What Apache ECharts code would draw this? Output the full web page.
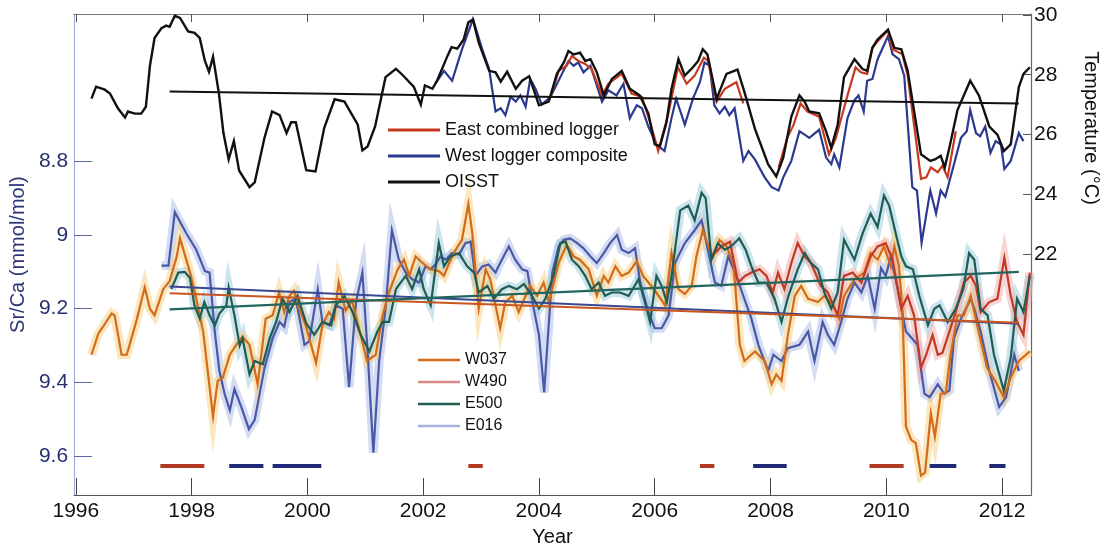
<!DOCTYPE html>
<html>
<head>
<meta charset="utf-8">
<script src="https://cdn.jsdelivr.net/npm/echarts@6/dist/echarts.min.js"></script>
<style>
  html, body { margin: 0; padding: 0; background: #fff; }
  #chart { width: 1113px; height: 552px; }
</style>
</head>
<body>
<div id="chart"></div>
<script>
// ---- values ----
var yearTicks = [1996, 1998, 2000, 2002, 2004, 2006, 2008, 2010, 2012];
var srcaTicks = [8.8, 9, 9.2, 9.4, 9.6];
var tempTicks = [22, 24, 26, 28, 30];

// temperature (right axis), [year, degC]
var oisst = [[1996.27,27.2],[1996.35,27.6],[1996.5,27.5],[1996.59,27.37],[1996.73,26.87],[1996.85,26.57],[1996.9,26.77],[1997.02,26.7],[1997.13,26.7],[1997.21,26.93],[1997.28,28.3],[1997.36,29.23],[1997.48,29.56],[1997.56,29.64],[1997.62,29.6],[1997.71,29.97],[1997.8,29.9],[1997.94,29.45],[1998.05,29.4],[1998.14,29.23],[1998.23,28.46],[1998.3,28.1],[1998.37,28.6],[1998.47,27.4],[1998.55,26.05],[1998.64,25.17],[1998.73,25.78],[1998.82,24.8],[1999.0,24.24],[1999.09,24.4],[1999.26,25.9],[1999.39,26.77],[1999.52,26.65],[1999.64,26.05],[1999.72,26.41],[1999.8,26.41],[1999.98,24.81],[2000.14,24.77],[2000.29,26.22],[2000.47,27.18],[2000.64,27.1],[2000.87,26.33],[2000.95,25.47],[2001.04,25.6],[2001.17,26.27],[2001.35,27.92],[2001.53,28.2],[2001.64,28.0],[2001.84,27.59],[2001.96,27.0],[2002.03,27.64],[2002.16,27.53],[2002.24,27.8],[2002.42,28.63],[2002.49,28.92],[2002.59,28.87],[2002.7,29.18],[2002.78,29.75],[2002.86,29.84],[2002.96,29.07],[2003.14,28.13],[2003.25,28.08],[2003.34,27.77],[2003.45,28.1],[2003.6,27.53],[2003.71,27.8],[2003.83,27.95],[2004.0,26.98],[2004.17,27.1],[2004.31,28.03],[2004.43,28.41],[2004.51,28.79],[2004.6,28.68],[2004.71,28.74],[2004.8,28.46],[2004.89,28.52],[2005.0,28.08],[2005.12,27.31],[2005.26,27.86],[2005.43,28.13],[2005.57,27.53],[2005.74,27.31],[2005.89,26.71],[2006.0,25.67],[2006.09,25.61],[2006.2,26.38],[2006.29,27.53],[2006.41,28.52],[2006.52,27.97],[2006.66,28.25],[2006.75,28.46],[2006.83,28.85],[2006.91,28.68],[2007.07,27.2],[2007.24,28.03],[2007.43,28.17],[2007.55,27.42],[2007.73,26.2],[2007.96,25.0],[2008.1,24.6],[2008.22,25.23],[2008.36,26.6],[2008.5,27.31],[2008.59,27.1],[2008.67,26.77],[2008.84,26.71],[2008.96,26.11],[2009.05,25.56],[2009.16,26.33],[2009.27,27.92],[2009.45,28.52],[2009.59,28.19],[2009.67,28.13],[2009.76,28.9],[2009.85,29.18],[2010.03,29.51],[2010.14,28.9],[2010.26,28.85],[2010.37,28.13],[2010.6,25.34],[2010.76,25.12],[2010.84,25.17],[2010.94,25.29],[2011.01,24.9],[2011.09,25.56],[2011.23,26.82],[2011.45,27.8],[2011.6,27.31],[2011.78,26.27],[2011.92,26.0],[2012.03,25.45],[2012.15,25.67],[2012.29,27.59],[2012.37,28.03],[2012.48,28.25]];

var eastLogger = [[2004.2,27.26],[2004.34,28.13],[2004.48,28.3],[2004.57,28.63],[2004.68,28.46],[2004.8,28.36],[2004.91,28.19],[2005.09,27.31],[2005.2,27.7],[2005.43,28.03],[2005.6,27.37],[2005.78,27.26],[2005.95,26.22],[2006.06,25.45],[2006.23,26.65],[2006.4,28.25],[2006.55,27.7],[2006.69,27.97],[2006.85,28.57],[2006.92,28.46],[2007.07,27.1],[2007.21,27.53],[2007.41,27.75],[2007.53,27.04],[2007.8,null],[2008.14,24.9],[2008.29,25.89],[2008.4,26.33],[2008.52,27.04],[2008.64,26.77],[2008.84,26.6],[2009.01,25.34],[2009.13,25.89],[2009.33,27.31],[2009.47,28.25],[2009.56,28.08],[2009.67,28.03],[2009.76,28.9],[2009.85,29.12],[2010.03,29.48],[2010.11,28.85],[2010.28,28.68],[2010.37,27.97],[2010.6,24.52],[2010.69,24.57],[2010.77,24.9],[2010.89,24.74],[2010.97,24.96],[2011.06,24.57],[2011.2,26.11]];

var westLogger = [[2002.21,27.7],[2002.36,28.13],[2002.5,27.8],[2002.67,28.85],[2002.86,29.86],[2003.02,28.85],[2003.14,28.19],[2003.25,26.77],[2003.34,26.88],[2003.42,26.65],[2003.51,27.26],[2003.6,27.1],[2003.68,27.31],[2003.77,26.93],[2003.85,27.86],[2003.94,27.53],[2004.05,27.0],[2004.2,27.26],[2004.37,27.92],[2004.51,28.46],[2004.6,28.3],[2004.68,28.41],[2004.77,28.08],[2004.89,28.3],[2005.09,27.1],[2005.2,27.48],[2005.34,27.31],[2005.46,27.7],[2005.57,26.55],[2005.69,26.98],[2005.78,26.88],[2005.89,26.27],[2006.03,25.67],[2006.17,25.45],[2006.29,26.55],[2006.37,27.2],[2006.52,26.33],[2006.66,27.2],[2006.78,27.75],[2006.86,28.41],[2006.95,28.3],[2007.03,26.98],[2007.12,26.71],[2007.21,26.93],[2007.29,26.65],[2007.38,26.88],[2007.53,25.12],[2007.62,25.45],[2007.73,25.17],[2007.9,24.57],[2008.02,24.24],[2008.14,24.13],[2008.22,24.57],[2008.36,25.12],[2008.5,26.11],[2008.59,26.0],[2008.67,25.89],[2008.84,26.16],[2008.96,25.23],[2009.05,25.01],[2009.1,25.34],[2009.19,24.9],[2009.33,26.55],[2009.45,27.15],[2009.52,27.31],[2009.61,26.77],[2009.67,27.8],[2009.76,27.86],[2009.85,28.52],[2010.03,29.29],[2010.11,28.68],[2010.22,28.52],[2010.31,27.97],[2010.45,24.24],[2010.53,24.13],[2010.61,22.38],[2010.76,24.13],[2010.86,23.36],[2010.94,24.13],[2011.02,23.92],[2011.17,25.01],[2011.29,25.89],[2011.39,26.11],[2011.45,26.82],[2011.55,26.05],[2011.62,25.94],[2011.71,26.27],[2011.8,25.39],[2011.89,25.78],[2011.98,25.67],[2012.04,24.85],[2012.15,25.12],[2012.29,26.05],[2012.37,25.78]];

var oisstTrend = [[1997.62,27.44],[2012.29,27.04]];

// Sr/Ca (left axis, inverted), [year, mmol/mol]
var w037 = [[1996.27,9.325],[1996.39,9.267],[1996.47,9.249],[1996.62,9.213],[1996.67,9.218],[1996.79,9.325],[1996.88,9.325],[1997.05,9.231],[1997.19,9.142],[1997.28,9.2],[1997.36,9.218],[1997.51,9.147],[1997.62,9.125],[1997.74,9.06],[1997.8,9.009],[1997.97,9.1],[1998.08,9.173],[1998.2,9.262],[1998.37,9.493],[1998.45,9.396],[1998.54,9.387],[1998.66,9.325],[1998.77,9.298],[1998.88,9.276],[1999.0,9.298],[1999.14,9.405],[1999.28,9.227],[1999.4,9.218],[1999.51,9.156],[1999.6,9.209],[1999.69,9.165],[1999.77,9.151],[1999.86,9.2],[1999.97,9.245],[2000.15,9.347],[2000.26,9.245],[2000.37,9.209],[2000.46,9.227],[2000.54,9.129],[2000.66,9.205],[2000.77,9.178],[2000.92,9.271],[2001.03,9.342],[2001.18,9.325],[2001.3,9.218],[2001.41,9.156],[2001.56,9.093],[2001.67,9.067],[2001.76,9.111],[2001.87,9.058],[2001.99,9.076],[2002.13,9.093],[2002.27,9.098],[2002.36,9.111],[2002.45,9.076],[2002.56,9.04],[2002.67,9.013],[2002.78,8.916],[2002.85,8.996],[2002.96,9.2],[2003.08,9.093],[2003.16,9.12],[2003.33,9.253],[2003.42,9.182],[2003.54,9.165],[2003.65,9.209],[2003.77,9.165],[2003.85,9.138],[2003.97,9.165],[2004.08,9.129],[2004.17,9.182],[2004.34,9.076],[2004.48,9.027],[2004.6,9.058],[2004.71,9.067],[2004.86,9.093],[2005.0,9.165],[2005.12,9.111],[2005.2,9.129],[2005.32,9.085],[2005.43,9.111],[2005.55,9.102],[2005.69,9.071],[2005.8,9.111],[2006.0,9.15],[2006.18,9.191],[2006.29,9.049],[2006.41,9.147],[2006.52,9.16],[2006.64,9.138],[2006.72,9.058],[2006.83,8.987],[2006.93,9.031],[2007.01,9.058],[2007.12,9.013],[2007.24,9.031],[2007.36,9.076],[2007.47,9.298],[2007.55,9.342],[2007.73,9.316],[2007.9,9.342],[2008.02,9.405],[2008.1,9.378],[2008.19,9.396],[2008.3,9.271],[2008.42,9.165],[2008.53,9.138],[2008.65,9.173],[2008.82,9.182],[2008.93,9.165],[2009.08,9.191],[2009.19,9.227],[2009.27,9.165],[2009.45,9.12],[2009.62,9.102],[2009.73,9.049],[2009.85,9.067],[2009.96,9.031],[2010.08,9.085],[2010.14,9.031],[2010.22,9.085],[2010.28,9.209],[2010.34,9.52],[2010.43,9.556],[2010.51,9.565],[2010.6,9.653],[2010.67,9.645],[2010.77,9.484],[2010.84,9.547],[2010.94,9.431],[2011.03,9.427],[2011.11,9.325],[2011.23,9.218],[2011.34,9.218],[2011.46,9.165],[2011.57,9.245],[2011.74,9.36],[2011.88,9.396],[2012.03,9.44],[2012.15,9.387],[2012.29,9.342],[2012.48,9.316]];

var w490 = [[2007.04,9.049],[2007.15,9.031],[2007.3,9.018],[2007.44,9.129],[2007.56,9.111],[2007.67,9.102],[2007.81,9.093],[2007.93,9.111],[2008.04,9.156],[2008.13,9.102],[2008.24,9.147],[2008.36,9.076],[2008.47,9.022],[2008.59,9.058],[2008.7,9.076],[2008.87,9.138],[2008.99,9.156],[2009.16,9.218],[2009.27,9.111],[2009.42,9.102],[2009.57,9.129],[2009.73,9.058],[2009.85,9.031],[2009.99,9.022],[2010.11,9.067],[2010.26,9.2],[2010.37,9.165],[2010.48,9.218],[2010.6,9.36],[2010.69,9.325],[2010.8,9.271],[2010.89,9.325],[2010.97,9.32],[2011.09,9.262],[2011.2,9.209],[2011.34,9.129],[2011.46,9.111],[2011.55,9.138],[2011.63,9.209],[2011.78,9.182],[2011.92,9.173],[2012.04,9.062],[2012.15,9.165],[2012.26,9.236],[2012.37,9.271],[2012.48,9.102]];

var e500 = [[1997.65,9.147],[1997.77,9.102],[1997.88,9.1],[1997.97,9.116],[1998.05,9.191],[1998.14,9.227],[1998.22,9.182],[1998.31,9.218],[1998.4,9.245],[1998.48,9.213],[1998.6,9.191],[1998.64,9.142],[1998.74,9.218],[1998.83,9.3],[1998.88,9.28],[1999.0,9.378],[1999.09,9.342],[1999.23,9.351],[1999.35,9.28],[1999.46,9.236],[1999.57,9.173],[1999.69,9.209],[1999.83,9.165],[1999.98,9.24],[2000.12,9.271],[2000.26,9.236],[2000.41,9.245],[2000.49,9.191],[2000.64,9.165],[2000.78,9.209],[2000.92,9.271],[2001.07,9.316],[2001.21,9.262],[2001.3,9.236],[2001.41,9.236],[2001.53,9.147],[2001.61,9.129],[2001.7,9.111],[2001.81,9.147],[2001.93,9.093],[2002.01,9.147],[2002.13,9.191],[2002.27,9.022],[2002.36,9.085],[2002.47,9.058],[2002.62,9.049],[2002.76,9.085],[2002.88,9.102],[2002.96,9.156],[2003.11,9.138],[2003.22,9.173],[2003.36,9.147],[2003.48,9.138],[2003.62,9.147],[2003.74,9.133],[2003.88,9.165],[2004.0,9.2],[2004.11,9.173],[2004.25,9.111],[2004.37,9.022],[2004.46,9.018],[2004.57,9.067],[2004.69,9.085],[2004.8,9.111],[2004.91,9.147],[2005.03,9.129],[2005.14,9.165],[2005.26,9.156],[2005.4,9.156],[2005.55,9.165],[2005.72,9.12],[2005.83,9.182],[2005.92,9.236],[2006.03,9.111],[2006.12,9.138],[2006.21,9.182],[2006.29,9.111],[2006.44,8.933],[2006.58,8.92],[2006.69,8.96],[2006.81,8.885],[2006.88,8.9],[2006.98,9.067],[2007.09,9.022],[2007.21,9.04],[2007.32,9.031],[2007.46,9.009],[2007.57,9.04],[2007.67,9.085],[2007.79,9.129],[2007.93,9.129],[2008.07,9.173],[2008.19,9.236],[2008.31,9.165],[2008.47,9.093],[2008.59,9.049],[2008.7,9.076],[2008.82,9.093],[2008.93,9.156],[2009.05,9.2],[2009.16,9.156],[2009.27,9.013],[2009.45,9.067],[2009.59,8.996],[2009.73,8.942],[2009.85,8.978],[2009.96,8.893],[2010.05,8.92],[2010.17,9.0],[2010.26,9.058],[2010.34,9.085],[2010.46,9.093],[2010.57,9.165],[2010.72,9.245],[2010.83,9.2],[2010.92,9.191],[2011.06,9.236],[2011.2,9.2],[2011.33,9.147],[2011.43,9.049],[2011.52,9.067],[2011.63,9.2],[2011.75,9.218],[2011.86,9.325],[2012.03,9.422],[2012.15,9.333],[2012.26,9.173],[2012.37,9.209],[2012.48,9.111]];

var e016 = [[1997.48,9.083],[1997.6,9.083],[1997.71,8.938],[1997.91,8.996],[1998.08,9.04],[1998.23,9.098],[1998.31,9.102],[1998.4,9.262],[1998.48,9.369],[1998.57,9.431],[1998.66,9.476],[1998.74,9.418],[1998.86,9.467],[1998.99,9.527],[1999.09,9.502],[1999.26,9.36],[1999.4,9.28],[1999.52,9.236],[1999.6,9.249],[1999.69,9.182],[1999.8,9.173],[1999.95,9.298],[2000.03,9.289],[2000.18,9.147],[2000.26,9.236],[2000.38,9.245],[2000.49,9.191],[2000.61,9.2],[2000.72,9.413],[2000.84,9.182],[2000.95,9.102],[2001.04,9.316],[2001.14,9.591],[2001.24,9.342],[2001.35,9.2],[2001.46,8.987],[2001.58,9.067],[2001.7,9.102],[2001.81,9.12],[2001.93,9.129],[2002.04,9.085],[2002.13,9.093],[2002.21,9.08],[2002.3,9.058],[2002.39,9.067],[2002.5,9.049],[2002.62,9.053],[2002.73,9.022],[2002.82,9.018],[2002.9,9.111],[2003.02,9.085],[2003.13,9.08],[2003.25,9.102],[2003.33,9.076],[2003.48,9.031],[2003.59,9.067],[2003.71,9.093],[2003.8,9.098],[2003.91,9.2],[2004.0,9.271],[2004.09,9.427],[2004.23,9.102],[2004.34,9.031],[2004.43,9.013],[2004.54,9.009],[2004.66,9.022],[2004.77,9.036],[2004.89,9.058],[2005.0,9.076],[2005.12,9.049],[2005.23,9.022],[2005.35,9.0],[2005.43,9.04],[2005.55,9.049],[2005.66,9.036],[2005.75,9.129],[2005.89,9.209],[2006.0,9.253],[2006.12,9.253],[2006.24,9.218],[2006.35,9.076],[2006.52,9.022],[2006.69,8.987],[2006.81,8.96],[2006.93,9.049],[2007.04,9.129],[2007.15,9.138],[2007.27,9.058],[2007.41,9.111],[2007.53,9.165],[2007.67,9.227],[2007.79,9.298],[2007.96,9.369],[2008.05,9.325],[2008.19,9.342],[2008.3,9.307],[2008.5,9.298],[2008.65,9.262],[2008.76,9.342],[2008.9,9.236],[2008.99,9.271],[2009.1,9.298],[2009.22,9.236],[2009.33,9.173],[2009.45,9.129],[2009.57,9.156],[2009.68,9.111],[2009.8,9.2],[2009.91,9.09],[2009.99,9.111],[2010.08,9.058],[2010.2,9.15],[2010.34,9.262],[2010.54,9.298],[2010.66,9.431],[2010.75,9.44],[2010.89,9.405],[2011.0,9.431],[2011.09,9.422],[2011.17,9.28],[2011.29,9.227],[2011.46,9.173],[2011.52,9.2],[2011.63,9.262],[2011.78,9.369],[2011.95,9.467],[2012.07,9.44],[2012.21,9.325],[2012.29,9.369]];

var w037Trend = [[1997.62,9.158],[2012.29,9.238]];
var e016Trend = [[1997.62,9.14],[2012.29,9.241]];
var e500Trend = [[1997.62,9.202],[2012.29,9.1]];

// event bars near the bottom, [start year, end year]
var barLevel = 9.627;
var redBars = [[1997.46,1998.22],[2002.78,2003.03],[2006.78,2007.03],[2009.71,2010.3]];
var blueBars = [[1998.65,1999.24],[1999.4,2000.24],[2007.7,2008.28],[2010.75,2011.21],[2011.78,2012.06]];

function barLine(segs) {
  var out = [];
  segs.forEach(function (s) {
    out.push([s[0], barLevel], [s[1], barLevel], [s[1], null]);
  });
  return out;
}

function line(name, data, color, width, yIdx, z, opacity) {
  return {
    name: name, type: 'line', data: data, yAxisIndex: yIdx,
    symbol: 'none', z: z, silent: true, animation: false,
    lineStyle: { color: color, width: width, opacity: opacity == null ? 1 : opacity, cap: 'butt', join: 'miter' },
    itemStyle: { color: color }
  };
}

var FONT = 'Liberation Sans, Arial, Helvetica, sans-serif';
var chart = echarts.init(document.getElementById('chart'));

var option = {
  backgroundColor: '#fff',
  animation: false,
  textStyle: { fontFamily: FONT },
  grid: { left: 71, right: 82, top: 14, bottom: 49 },
  xAxis: [{
    type: 'value', min: 1995.97, max: 2012.5,
    name: 'Year', nameLocation: 'middle', nameGap: 27,
    nameTextStyle: { fontSize: 20, color: '#111', fontFamily: FONT },
    axisLine: { lineStyle: { color: '#555', width: 1.2 } },
    axisTick: { inside: true, length: 17, customValues: yearTicks, lineStyle: { color: '#444' } },
    axisLabel: { customValues: yearTicks, fontSize: 21, color: '#111', margin: 6,
      formatter: function (v) { return String(Math.round(v)); } },
    splitLine: { show: false }
  }, {
    type: 'value', min: 1995.97, max: 2012.5, position: 'top',
    axisLine: { show: true, lineStyle: { color: '#777', width: 1 } },
    axisTick: { inside: true, length: 8, customValues: yearTicks, lineStyle: { color: '#555' } },
    axisLabel: { show: false },
    splitLine: { show: false }
  }],
  yAxis: [{
    type: 'value', min: 8.4, max: 9.706, inverse: true,
    name: 'Sr/Ca (mmol/mol)', nameLocation: 'middle', nameGap: 38,
    nameTextStyle: { fontSize: 20, color: '#2a3478', fontFamily: FONT },
    axisLine: { show: true, lineStyle: { color: '#9fb0d8', width: 1.2 } },
    axisTick: { inside: true, length: 18, customValues: srcaTicks, lineStyle: { color: '#5a6aa8' } },
    axisLabel: { customValues: srcaTicks, fontSize: 21, color: '#27306e', margin: 6 },
    splitLine: { show: false }
  }, {
    type: 'value', min: 13.95, max: 30.03, position: 'right',
    axisLine: { show: true, lineStyle: { color: '#666', width: 1.2 } },
    axisTick: { inside: true, length: 8, customValues: tempTicks, lineStyle: { color: '#555' } },
    axisLabel: { customValues: tempTicks, fontSize: 21, color: '#111', margin: 3 },
    splitLine: { show: false }
  }],
  legend: [{
    orient: 'vertical', left: 383, top: 116, icon: 'rect',
    itemWidth: 52, itemHeight: 3, itemGap: 8,
    textStyle: { fontSize: 18, color: '#111', fontFamily: FONT },
    data: ['East combined logger', 'West logger composite', 'OISST']
  }, {
    orient: 'vertical', left: 413, top: 347, icon: 'rect',
    itemWidth: 42, itemHeight: 2.5, itemGap: 6,
    textStyle: { fontSize: 16, color: '#111', fontFamily: FONT },
    data: [
      { name: 'W037' },
      { name: 'W490', itemStyle: { color: '#d98a86' } },
      { name: 'E500' },
      { name: 'E016', itemStyle: { color: '#a8b2de' } }
    ]
  }],
  graphic: [{
    type: 'text', x: 1091, y: 128, rotation: -Math.PI / 2,
    style: { text: 'Temperature (°C)', font: '20px ' + FONT, fill: '#111', textAlign: 'center', textVerticalAlign: 'middle' }
  }],
  series: [
    // shaded uncertainty bands (wide translucent strokes)
    line('band-e016', e016, '#9fb2e6', 9, 0, 1, 0.45),
    line('band-e500', e500, '#8cc3d8', 9, 0, 1, 0.45),
    line('band-w037', w037, '#f6cf7c', 9, 0, 1, 0.5),
    line('band-w490', w490, '#f0a2a2', 9, 0, 1, 0.45),
    // Sr/Ca records
    line('E016', e016, '#4a59a6', 2.2, 0, 3),
    line('W037', w037, '#d46a1c', 2.2, 0, 4),
    line('W490', w490, '#c03a24', 2.2, 0, 4),
    line('E500', e500, '#1f5c52', 2.2, 0, 5),
    line('trend-e016', e016Trend, '#3a4890', 2, 0, 6),
    line('trend-w037', w037Trend, '#c8561e', 2, 0, 6),
    line('trend-e500', e500Trend, '#22665e', 2.2, 0, 6),
    // event bars
    line('bars-red', barLine(redBars), '#b23a22', 4, 0, 6),
    line('bars-blue', barLine(blueBars), '#1f2a78', 4, 0, 6),
    // temperature records
    line('West logger composite', westLogger, '#2b3990', 2.2, 1, 7),
    line('East combined logger', eastLogger, '#c7391f', 2.2, 1, 8),
    line('OISST', oisst, '#111111', 2.4, 1, 9),
    line('trend-oisst', oisstTrend, '#111111', 2, 1, 9)
  ]
};

chart.setOption(option);
</script>
</body>
</html>
